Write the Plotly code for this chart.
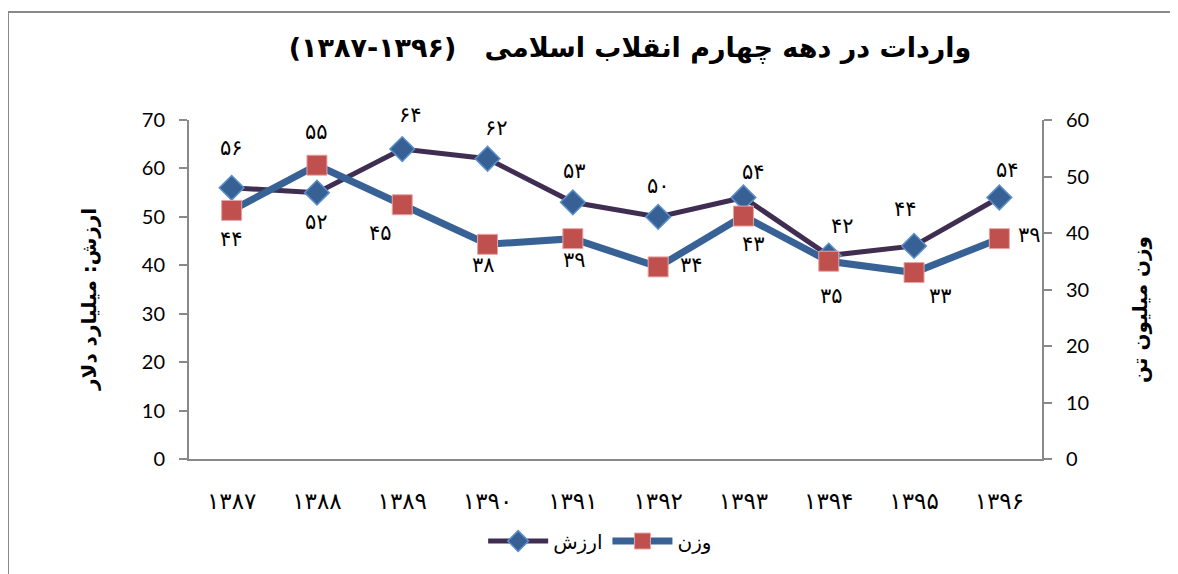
import plotly.graph_objects as go

# ---- data ----
years = ["۱۳۸۷", "۱۳۸۸", "۱۳۸۹", "۱۳۹۰", "۱۳۹۱", "۱۳۹۲", "۱۳۹۳", "۱۳۹۴", "۱۳۹۵", "۱۳۹۶"]
value_bn_usd = [56, 55, 64, 62, 53, 50, 54, 42, 44, 54]      # ارزش (left axis)
weight_mn_ton = [44, 52, 45, 38, 39, 34, 43, 35, 33, 39]     # وزن (right axis)
series_names = ["ارزش", "وزن"]
title_text = "واردات در دهه چهارم انقلاب اسلامی   (۱۳۹۶-۱۳۸۷)"
left_title = "ارزش: میلیارد دلار"
right_title = "وزن میلیون تن"

# ---- label placement (style only, pixel offsets dx, dy-up) ----
value_label_offsets = [(0, 40), (0, 61), (8, 34), (9, 31), (2, 31), (0, 31), (10, 25), (14, 30), (-9, 37), (8, 27)]
weight_label_offsets = [(0, -29), (0, -57), (-22, -28), (-4, -21), (2, -21), (33, 2), (10, -28), (3, -35), (26, -23), (30, 4)]

FA = str.maketrans("0123456789", "۰۱۲۳۴۵۶۷۸۹")
RLE, PDF = "\u202B", "\u202C"
fa_font = "DejaVu Sans"
num_font = "Lato, Liberation Sans, sans-serif"

W, H = 1170, 566  # page body has an 8px margin

fig = go.Figure()
fig.add_trace(go.Scatter(
    x=years, y=value_bn_usd, name=series_names[0], mode="lines+markers",
    line=dict(color="#3F2D52", width=5),
    marker=dict(symbol="diamond", size=19, color="#376194", line=dict(color="#5B8FCB", width=1.5)),
    yaxis="y",
))
fig.add_trace(go.Scatter(
    x=years, y=weight_mn_ton, name=series_names[1], mode="lines+markers",
    line=dict(color="#386295", width=7),
    marker=dict(symbol="square", size=20, color="#C0504D", line=dict(color="#E8A5A3", width=1)),
    yaxis="y2",
))

annotations = []
for xv, yv, (dx, dy) in zip(years, value_bn_usd, value_label_offsets):
    annotations.append(dict(x=xv, y=yv, xref="x", yref="y", text=str(yv).translate(FA),
                            showarrow=False, xshift=dx, yshift=dy,
                            font=dict(family=fa_font, size=21, color="black")))
for xv, yv, (dx, dy) in zip(years, weight_mn_ton, weight_label_offsets):
    annotations.append(dict(x=xv, y=yv, xref="x", yref="y2", text=str(yv).translate(FA),
                            showarrow=False, xshift=dx, yshift=dy,
                            font=dict(family=fa_font, size=21, color="black")))
# axis titles
annotations.append(dict(x=-0.118, y=0.47, xref="paper", yref="paper", text=RLE + left_title + PDF,
                        textangle=-90, showarrow=False, xanchor="center", yanchor="middle",
                        font=dict(family=fa_font, size=20, color="black", weight="bold")))
annotations.append(dict(x=1.115, y=0.44, xref="paper", yref="paper", text=RLE + right_title + PDF,
                        textangle=-90, showarrow=False, xanchor="center", yanchor="middle",
                        font=dict(family=fa_font, size=20, color="black", weight="bold")))

fig.update_layout(
    width=W, height=H,
    margin=dict(l=181, r=136, t=112, b=115),
    paper_bgcolor="white", plot_bgcolor="white",
    title=dict(text=RLE + title_text + PDF, x=622 / W, y=1 - 40 / H, xanchor="center", yanchor="middle",
               xref="container", yref="container",
               font=dict(family=fa_font, size=27, color="black", weight="bold")),
    xaxis=dict(type="category", range=[-0.5, 9.5], showgrid=False, zeroline=False,
               showline=True, linecolor="#898989", linewidth=2, ticks="",
               ticklabelstandoff=20,
               tickfont=dict(family=fa_font, size=23, color="black")),
    yaxis=dict(range=[0, 70], dtick=10, showgrid=False, zeroline=False,
               showline=True, linecolor="#898989", linewidth=2,
               ticks="outside", ticklen=8, tickcolor="#898989", tickwidth=2,
               ticklabelstandoff=10,
               tickfont=dict(family=num_font, size=20, color="black")),
    yaxis2=dict(range=[0, 60], dtick=10, overlaying="y", side="right", showgrid=False, zeroline=False,
                showline=True, linecolor="#898989", linewidth=2,
                ticks="outside", ticklen=8, tickcolor="#898989", tickwidth=2,
                ticklabelstandoff=10,
                tickfont=dict(family=num_font, size=20, color="black")),
    showlegend=True,
    legend=dict(orientation="h", x=0.482, y=-0.242, xanchor="center", yanchor="middle",
                itemwidth=60, tracegroupgap=10,
                font=dict(family=fa_font, size=20, color="black"), bgcolor="rgba(0,0,0,0)"),
    annotations=annotations,
    shapes=[dict(type="rect", xref="paper", yref="paper",
                 x0=(0 - 181) / 853, x1=(1200 - 181) / 853,
                 y0=(451 - 600) / 339, y1=(451 - 4) / 339,
                 line=dict(color="#898989", width=2), fillcolor="rgba(0,0,0,0)", layer="below")],
)

fig.write_html("out.html")
